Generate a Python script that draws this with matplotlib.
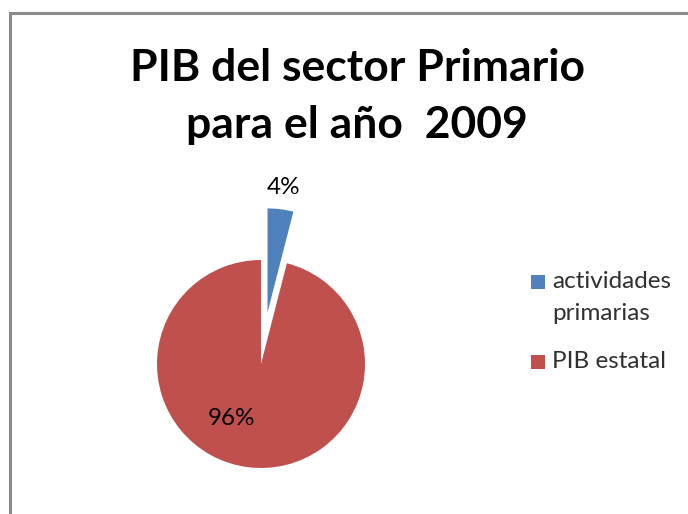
import matplotlib
matplotlib.use('Agg')
import matplotlib.pyplot as plt
from matplotlib.patches import Rectangle

# datos del grafico
categorias = ['actividades\nprimarias', 'PIB estatal']
valores = [4, 96]
colores = ['#4F81BD', '#C0504D']
titulo = ['PIB del sector Primario', 'para el año  2009']

W, H = 688, 514
fig = plt.figure(figsize=(W/100, H/100), dpi=100)

def fx(px):
    return px / W

def fy(py):
    # py medido desde arriba
    return 1 - py / H

# marco gris del area del grafico
fig.add_artist(Rectangle((fx(10), -0.2), 1.5, fy(13) + 0.2, transform=fig.transFigure,
                         fill=False, edgecolor='#8a8a8a', linewidth=2.2))

# titulo en dos lineas
for linea, base in zip(titulo, [81, 138]):
    fig.text(fx(357), fy(base), linea, ha='center', va='baseline',
             fontsize=32, fontweight='bold', family='Lato', color='black')

# pastel
ax = fig.add_axes([fx(131), fy(494), 260/W, 260/H])
wedges, textos, pcts = ax.pie(valores, colors=colores, startangle=90, counterclock=False,
                              explode=[0.5, 0], autopct='%1.0f%%', pctdistance=1.21,
                              wedgeprops=dict(linewidth=0),
                              textprops=dict(fontsize=17.5, family='Lato', color='black'))
pcts[1].set_position((-0.28, -0.52))
ax.set_xlim(-1.25, 1.25)
ax.set_ylim(-1.25, 1.25)
ax.set_aspect('equal')
ax.axis('off')

# leyenda (cuadro alineado con la primera linea del texto)
for i, (cat, col) in enumerate(zip(categorias, colores)):
    top = [275, 355][i]
    fig.add_artist(Rectangle((fx(531), fy(top + 14)), 14/W, 14/H, transform=fig.transFigure,
                             facecolor=col, edgecolor='none'))
    for j, linea in enumerate(cat.split('\n')):
        fig.text(fx(552), fy(top + 13 + 32*j), linea, ha='left', va='baseline',
                 fontsize=17.5, family='Lato', color='#303030')

plt.savefig('out.png', dpi=100)
